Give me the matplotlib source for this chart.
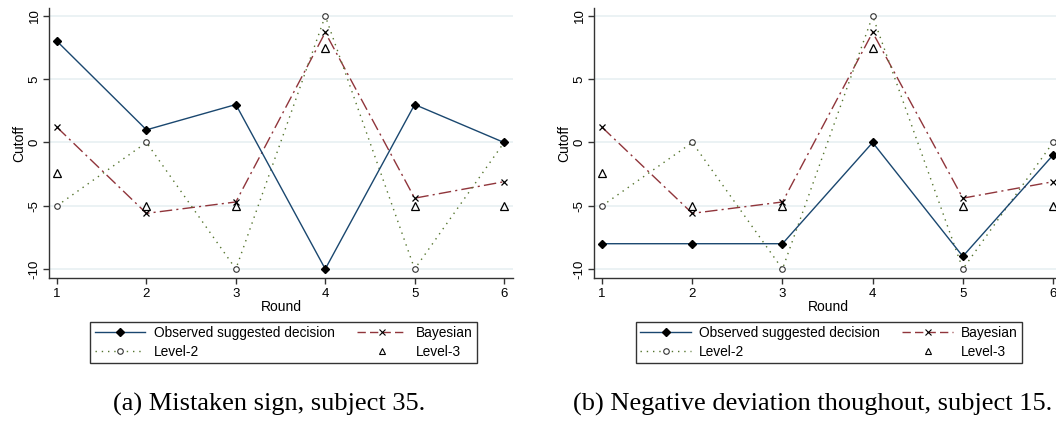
#!/usr/bin/env python3
# -*- coding: utf-8 -*-
"""Cutoff by round: observed suggested decision vs model predictions, two subjects."""

import matplotlib
matplotlib.use("Agg")
import matplotlib.pyplot as plt
from matplotlib.lines import Line2D

rounds = [1, 2, 3, 4, 5, 6]

# model predictions (same in both panels)
bayesian = [1.2, -5.6, -4.7, 8.7, -4.4, -3.1]
level2 = [-5, 0, -10, 10, -10, 0]
level3 = [-2.4, -5, -5, 7.5, -5, -5]

# observed suggested decision per subject
observed_s35 = [8, 1, 3, -10, 3, 0]
observed_s15 = [-8, -8, -8, 0, -9, -1]

captions = ["(a) Mistaken sign, subject 35.",
            "(b) Negative deviation thoughout, subject 15."]

NAVY = "#1a476f"
MAROON = "#90353b"
GREEN = "#55752f"
GRID = "#e8f0f2"
SANS = ["Liberation Sans", "DejaVu Sans"]
SERIF = ["Liberation Serif", "DejaVu Serif"]

plt.rcParams["font.family"] = SANS


def draw_panel(ax, observed):
    ax.plot(rounds, observed, color=NAVY, lw=1.0, marker="D", ms=4.5,
            mfc="black", mec="black", zorder=4)
    ax.plot(rounds, bayesian, color=MAROON, lw=1.0, ls=(0, (9, 3, 1.5, 3)),
            marker="x", ms=4, mec="black", mew=0.9, zorder=3)
    ax.plot(rounds, level2, color=GREEN, lw=1.0, ls=(0, (1, 3.5)),
            marker="o", ms=4, mfc="white", mec="#333333", mew=0.8, zorder=3)
    ax.plot(rounds, level3, ls="none", marker="^", ms=5.5, mfc="none",
            mec="black", mew=0.9, zorder=3)

    ax.set_xlim(0.91, 6.1)
    ax.set_ylim(-10.71, 10.63)
    ax.set_xticks(rounds)
    ax.set_yticks([-10, -5, 0, 5, 10])
    ax.set_yticklabels(["-10", "-5", "0", "5", "10"], rotation=90, va="center")
    ax.tick_params(axis="both", direction="out", length=4, width=1,
                   labelsize=9.5, color="#333333")
    ax.tick_params(axis="x", pad=3)
    ax.tick_params(axis="y", pad=2)
    for side in ("top", "right"):
        ax.spines[side].set_visible(False)
    for side in ("left", "bottom"):
        ax.spines[side].set_color("#333333")
        ax.spines[side].set_linewidth(1.0)
    ax.grid(axis="y", color=GRID, lw=1.2)
    ax.set_axisbelow(True)
    ax.set_xlabel("Round", fontsize=10, labelpad=0)
    ax.set_ylabel("Cutoff", fontsize=10, labelpad=2)


def legend_handles():
    h_obs = Line2D([], [], color=NAVY, lw=1.0, marker="D", ms=4.5,
                   mfc="black", mec="black")
    h_bay = Line2D([], [], color=MAROON, lw=1.0, ls=(0, (6, 3)),
                   marker="x", ms=4, mec="black", mew=0.8)
    h_l2 = Line2D([], [], color=GREEN, lw=1.0, ls=(0, (1, 3.5)),
                  marker="o", ms=4, mfc="white", mec="#333333", mew=0.8)
    h_l3 = Line2D([], [], ls="none", marker="^", ms=4.5, mfc="none",
                  mec="black", mew=0.8)
    handles = [h_obs, h_l2, h_bay, h_l3]
    labels = ["Observed suggested decision", "Level-2", "Bayesian", "Level-3"]
    return handles, labels


fig = plt.figure(figsize=(10.56, 4.25), dpi=100)
W, H = 1056.0, 425.0

ax_a = fig.add_axes([49 / W, (H - 278) / H, 464 / W, 270 / H])
ax_b = fig.add_axes([594 / W, (H - 278) / H, 468 / W, 270 / H])
draw_panel(ax_a, observed_s35)
draw_panel(ax_b, observed_s15)

for ax, (x0, x1) in ((ax_a, (88, 479)), (ax_b, (633, 1025))):
    handles, labels = legend_handles()
    leg = fig.legend(handles, labels, ncol=2, loc="upper center",
                     bbox_to_anchor=((x0 + x1) / 2 / W, (H - 322) / H),
                     fontsize=9.9, frameon=True, fancybox=False,
                     edgecolor="black", handlelength=3.7, handletextpad=0.6,
                     columnspacing=1.6, borderpad=0.3, labelspacing=0.35,
                     borderaxespad=0)
    leg.get_frame().set_linewidth(1.0)

fig.text(269 / W, 21 / H, captions[0], ha="center", va="center",
         fontsize=19, family=SERIF)
fig.text(1052 / W, 21 / H, captions[1], ha="right", va="center",
         fontsize=19, family=SERIF)

fig.savefig("out.png", dpi=100)
